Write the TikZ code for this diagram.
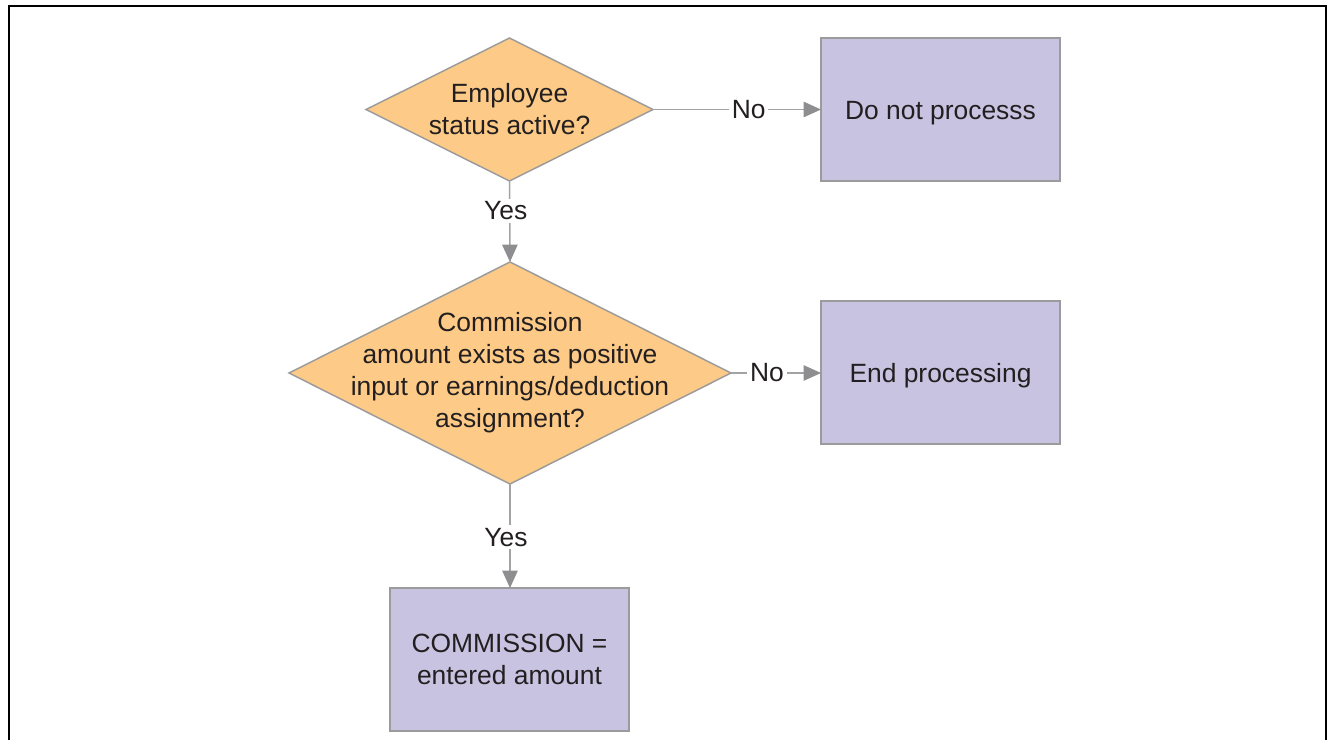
\documentclass[tikz,border=0pt]{standalone}
\usepackage{fontspec}
\setmainfont{Liberation Sans}
\usetikzlibrary{shapes.geometric,arrows.meta}
\definecolor{decfill}{HTML}{FDCB87}
\definecolor{boxfill}{HTML}{C8C3E1}
\definecolor{edge}{HTML}{9B9B9B}
\definecolor{linkgray}{HTML}{A3A3A3}
\definecolor{tipgray}{HTML}{8E8E90}
\definecolor{ink}{HTML}{231F20}
\begin{document}
\begin{tikzpicture}[x=0.75pt,y=-0.75pt,
  every node/.style={font=\fontsize{19.8pt}{24pt}\selectfont, text=ink},
  decision/.style={diamond, draw=edge, fill=decfill, line width=1.1pt, inner sep=0pt, outer sep=0pt},
  process/.style={rectangle, draw=edge, fill=boxfill, line width=1.1pt, minimum width=179.25pt, minimum height=107.25pt, inner sep=0pt, outer sep=0pt, align=center},
  oneline/.style={text height=17pt, text depth=2.5pt},
  label/.style={align=center, inner sep=0pt},
  tag/.style={fill=white, inner sep=2pt},
  link/.style={draw=linkgray, line width=1.1pt, -{Triangle[length=13pt,width=11.5pt,color=tipgray]}},
]
\useasboundingbox (0,0) rectangle (1328,740);
% outer frame, open at the bottom
\draw[line width=2pt, black] (9,740) -- (9,6) -- (1326,6) -- (1326,740);

% decisions
\node[decision, minimum width=215.25pt, minimum height=107.25pt] (d1) at (509.5,109.5) {};
\node[label] (t1) at (d1.center) {Employee\\status active?};
\node[decision, minimum width=331.5pt, minimum height=166.5pt] (d2) at (510,373) {};
\node[label] (t2) at (d2.center) {Commission\\amount exists as positive\\input or earnings/deduction\\assignment?};

% process boxes
\node[process, oneline] (b1) at (940.5,109.5) {Do not processs};
\node[process, oneline] (b2) at (940.5,372.5) {End processing};
\node[process] (b3) at (509.5,659.5) {COMMISSION =\\entered amount};

% connectors
\draw[link] (d1.east) -- node[tag, pos=0.57] {No} (d1.east -| b1.west);
\draw[link] (d1.south) -- node[tag, pos=0.37, xshift=-3pt] {Yes} (d2.north);
\draw[link] (d2.east) -- node[tag, pos=0.40] {No} (d2.east -| b2.west);
\draw[link] (d2.south) -- node[tag, pos=0.51, xshift=-3pt] {Yes} (d2.south |- b3.north);
\end{tikzpicture}
\end{document}
